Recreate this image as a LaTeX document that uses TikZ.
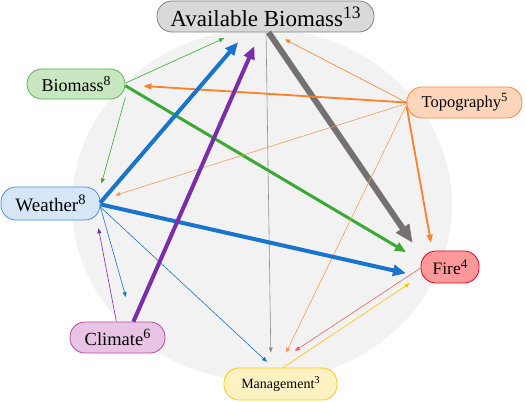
\documentclass[tikz,border=0pt]{standalone}
\usepackage{fontspec}
\setmainfont{Liberation Serif}
\newfontfamily\labelfont{Liberation Serif}
\usetikzlibrary{arrows.meta}

\definecolor{backgrey}{HTML}{F2F2F2}
\definecolor{abfill}{HTML}{D9D9D9}
\definecolor{abline}{HTML}{7F7F7F}
\definecolor{biofill}{HTML}{C9E7C0}
\definecolor{bioline}{HTML}{5AB55A}
\definecolor{topfill}{HTML}{FDD5BA}
\definecolor{topline}{HTML}{FF8A3D}
\definecolor{weafill}{HTML}{D6E6F7}
\definecolor{wealine}{HTML}{4D90D9}
\definecolor{firefill}{HTML}{FF9999}
\definecolor{fireline}{HTML}{E3001B}
\definecolor{clifill}{HTML}{E8C3E3}
\definecolor{cliline}{HTML}{B44AA6}
\definecolor{manfill}{HTML}{FFF2C2}
\definecolor{manline}{HTML}{FFC61A}
\definecolor{greyarrow}{HTML}{767171}
\definecolor{greenarrow}{HTML}{3AAA35}
\definecolor{orangearrow}{HTML}{FF7F2A}
\definecolor{bluearrow}{HTML}{1874CD}
\definecolor{purplearrow}{HTML}{7A2DA8}
\definecolor{redarrow}{HTML}{F25C5C}
\definecolor{yellowarrow}{HTML}{FFC000}

\newcommand{\sups}[1]{\raisebox{0.36em}{\fontsize{0.76em}{0.8em}\selectfont #1}}

\begin{document}
\begin{tikzpicture}[x=1pt, y=-1pt,
  factor/.style={draw, line width=0.8pt, rounded corners=15pt, inner sep=0pt, align=center},
  thin link/.style={line width=0.6pt, -{Triangle[length=5pt,width=4pt]}},
  mid link/.style={line width=1.8pt, -{Triangle[length=8pt,width=6pt]}},
  wide link/.style={line width=3pt, -{Triangle[length=11pt,width=9pt]}},
  thick link/.style={line width=4pt, -{Triangle[length=13pt,width=11pt]}},
  fat link/.style={line width=6pt, -{Triangle[length=18pt,width=15pt]}}]
\useasboundingbox (0,0) rectangle (526,401);
\fill[backgrey] (262,205) ellipse [x radius=190pt, y radius=176pt];

\node (avail) [factor, fill=abfill, draw=abline, minimum width=217pt, minimum height=31pt, font=\labelfont\fontsize{23}{25}\selectfont] at (265.5,16.5) {Available Biomass\sups{13}};
\node (biomass) [factor, fill=biofill, draw=bioline, minimum width=98pt, minimum height=30pt, font=\labelfont\fontsize{18}{20}\selectfont] at (76,84) {Biomass\sups{8}};
\node (topo) [factor, fill=topfill, draw=topline, minimum width=115pt, minimum height=31pt, font=\labelfont\fontsize{16.5}{18}\selectfont] at (464.5,102.5) {Topography\sups{5}};
\node (weather) [factor, fill=weafill, draw=wealine, minimum width=99pt, minimum height=33pt, font=\labelfont\fontsize{19}{21}\selectfont] at (50.5,203.5) {Weather\sups{8}};
\node (fire) [factor, fill=firefill, draw=fireline, minimum width=58pt, minimum height=32pt, font=\labelfont\fontsize{17.5}{19}\selectfont] at (450,267) {Fire\sups{4}};
\node (climate) [factor, fill=clifill, draw=cliline, minimum width=95pt, minimum height=31pt, font=\labelfont\fontsize{18.5}{20}\selectfont] at (117.5,337.5) {Climate\sups{6}};
\node (manage) [factor, fill=manfill, draw=manline, minimum width=113pt, minimum height=32pt, font=\labelfont\fontsize{14}{16}\selectfont] at (280.5,384) {Management\sups{3}};

\draw[thin link, greyarrow!80, shorten >=15pt] (avail.-88) -- (manage.120); % Available Biomass to Management
\draw[fat link, greyarrow, shorten >=14pt] (avail.-79) -- (fire.157); % Available Biomass to Fire
\draw[thin link, greenarrow, shorten >=14pt] (biomass.1) -- (avail.-151.6); % Biomass to Available Biomass
\draw[thin link, greenarrow, shorten >=4pt] (biomass.-15.5) -- (weather.18.6); % Biomass to Weather
\draw[wide link, greenarrow, shorten >=17pt] (biomass.-2) -- (fire.168); % Biomass to Fire
\draw[thin link, orangearrow, shorten >=15pt] (topo.180) -- (avail.-69.2); % Topography to Available Biomass
\draw[mid link, orangearrow, shorten >=18pt] (topo.180) -- (biomass.-1); % Topography to Biomass
\draw[thin link, orangearrow!80, shorten >=15.5pt] (topo.-179) -- (weather.4.3); % Topography to Weather
\draw[thin link, orangearrow!80, shorten >=16.5pt] (topo.-178.5) -- (manage.96.4); % Topography to Management
\draw[mid link, orangearrow, shorten >=8pt] (topo.-176.4) -- (fire.137.9); % Topography to Fire
\draw[thin link, bluearrow, shorten >=25.5pt] (weather.-4) -- (climate.46.1); % Weather to Climate
\draw[thin link, bluearrow, shorten >=8.5pt] (weather.-4) -- (manage.114.2); % Weather to Management
\draw[thick link, bluearrow, shorten >=13pt] (weather.1.7) -- (avail.-140.8); % Weather to Available Biomass
\draw[thick link, bluearrow, shorten >=15pt] (weather.-1) -- (fire.-162); % Weather to Fire
\draw[thin link, purplearrow, shorten >=8pt] (climate.94) -- (weather.-20.9); % Climate to Weather
\draw[thick link, purplearrow, shorten >=15pt] (climate.45) -- (avail.-108.9); % Climate to Available Biomass
\draw[thin link, redarrow, shorten >=30.5pt] (fire.-178) -- (manage.124.8); % Fire to Management
\draw[thin link, yellowarrow, shorten >=13pt] (manage.81) -- (fire.-163.3); % Management to Fire
\end{tikzpicture}
\end{document}
